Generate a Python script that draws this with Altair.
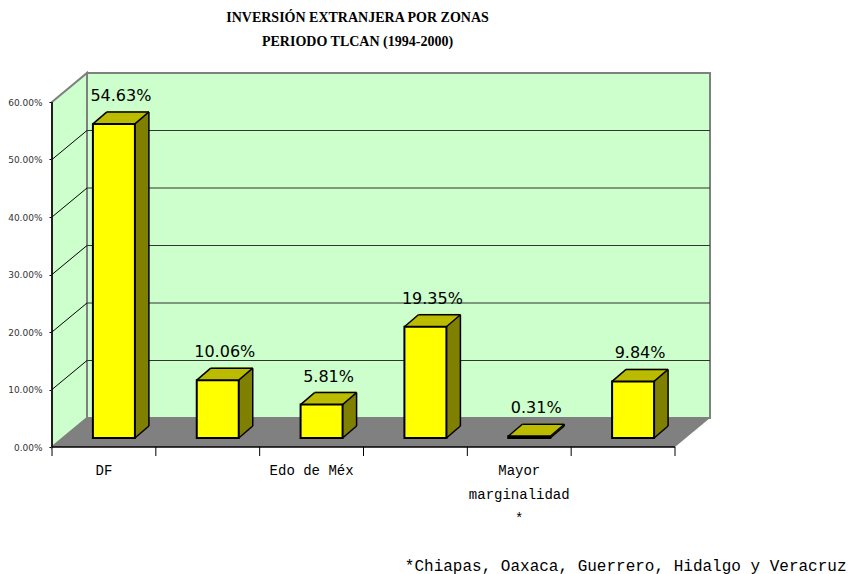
import json
import altair as alt
import pandas as pd

# ---------------- data ----------------
CATEGORY_IDX = [0, 1, 2, 3, 4, 5]
TICK_LABELS = ["DF", "", "Edo de Méx", "", "Mayor|marginalidad|*", ""]
VALUES = [54.63, 10.06, 5.81, 19.35, 0.31, 9.84]
Y_TICKS = [0, 10, 20, 30, 40, 50, 60]
TITLE_LINES = ["INVERSIÓN EXTRANJERA POR ZONAS", "PERIODO TLCAN (1994-2000)"]
FOOTNOTE = "*Chiapas, Oaxaca, Guerrero, Hidalgo y Veracruz"

# ---------------- styles ----------------
W, H = 623, 345
N = len(CATEGORY_IDX)
YMAX = Y_TICKS[-1]
WALL_DX, WALL_DY = 35, 29       # depth of the floor / side wall (px)
BAR_DX, BAR_DY = -25, 20        # front face shift of bars (px)
DEPTH_X, DEPTH_Y = 14, 12       # bar depth (px)
BAR_W = 42
TICK_LEN = 9
GREEN = "#CCFFCC"
FLOOR = "#808080"
YELLOW = "#FFFF00"
TOP = "#C0C000"
SIDE = "#808000"

ux = W / N
uy = H / YMAX
DXF = -WALL_DX / ux
DYF = -WALL_DY / uy

yscale = alt.Scale(domain=[0, YMAX], nice=False, zero=False)
xq = alt.Scale(domain=[0, N], nice=False, zero=False)
xb = alt.Scale(type="band", paddingInner=0, paddingOuter=0)

yaxis = alt.Axis(
    values=Y_TICKS, labelExpr="format(datum.value, '.2f') + '%'",
    offset=WALL_DX, tickOffset=WALL_DY, domain=False, grid=False,
    tickSize=3, tickColor="black", labelFont="DejaVu Sans", labelFontSize=9,
    labelColor="#333333", labelPadding=7, title=None,
)
label_expr = (
    "datum.value >= 0 && datum.value < " + str(N) + " ? split("
    + json.dumps(TICK_LABELS) + "[datum.value], '|') : ''"
)
xaxis = alt.Axis(
    offset=WALL_DY, labelOffset=-WALL_DX, domain=False, grid=False, ticks=False,
    labelExpr=label_expr,
    labelFont="Liberation Mono", labelFontSize=14, labelLineHeight=24,
    labelPadding=TICK_LEN + 7, labelColor="black", labelAngle=0, labelBaseline="top",
    title=FOOTNOTE, titleX=759, titleY=118, titleAlign="right",
    titleBaseline="middle", titleFont="Liberation Mono", titleFontSize=16,
    titleFontWeight="normal", titleColor="black",
)

# ---------------- tables ----------------
bars_df = pd.DataFrame({
    "idx": CATEGORY_IDX,
    "value": VALUES,
    "label": [f"{v:.2f}%" for v in VALUES],
    "center": [i + 0.5 for i in CATEGORY_IDX],
    "zero": [0] * N,
})
floor_df = pd.DataFrame({"y": [0, DYF], "x": [0, DXF], "x2": [N, N + DXF]})
wall_df = pd.DataFrame({"x": [DXF, 0], "y": [DYF, 0], "y2": [YMAX + DYF, YMAX]})
grid_df = pd.DataFrame({"v": Y_TICKS[1:-1]})
grid_df["vf"] = grid_df["v"] + DYF
grid_df["xa"] = DXF
grid_df["xb"] = 0
grid_df["xe"] = N
front_df = pd.DataFrame({
    "x": [DXF, DXF], "x2": [DXF, N + DXF],
    "y": [DYF, DYF], "y2": [YMAX + DYF, DYF],
})
xtick_df = pd.DataFrame({"b": [i + DXF for i in range(N + 1)], "y": [DYF] * (N + 1)})

# ---------------- back decoration ----------------
wall = alt.Chart(wall_df).mark_area(orient="vertical", fill=GREEN, stroke=FLOOR, strokeWidth=2).encode(
    x=alt.X("x:Q", scale=xq, axis=None),
    y=alt.Y("y:Q", scale=yscale, axis=yaxis),
    y2="y2:Q",
)
floor = alt.Chart(floor_df).mark_area(orient="horizontal", color=FLOOR).encode(
    y=alt.Y("y:Q", scale=yscale, axis=yaxis),
    x=alt.X("x:Q", scale=xq, axis=None),
    x2="x2:Q",
)
gridlines = alt.Chart(grid_df).mark_rule(color="#333333", strokeWidth=1).encode(
    x=alt.X("xb:Q", scale=xq, axis=None), x2="xe:Q",
    y=alt.Y("v:Q", scale=yscale, axis=yaxis),
)
diagonals = alt.Chart(grid_df).mark_rule(color="black", strokeWidth=1).encode(
    x=alt.X("xa:Q", scale=xq, axis=None), x2="xb:Q",
    y=alt.Y("vf:Q", scale=yscale, axis=yaxis), y2="v:Q",
)
front_lines = alt.Chart(front_df).mark_rule(color="black", strokeWidth=1.5).encode(
    x=alt.X("x:Q", scale=xq, axis=None), x2="x2:Q",
    y=alt.Y("y:Q", scale=yscale, axis=yaxis), y2="y2:Q",
)
xticks = alt.Chart(xtick_df).mark_rule(color="black", strokeWidth=1, y2Offset=TICK_LEN).encode(
    x=alt.X("b:Q", scale=xq, axis=None),
    y=alt.Y("y:Q", scale=yscale, axis=yaxis), y2="y:Q",
)
back_group = alt.layer(wall, floor, gridlines, diagonals, front_lines, xticks)

# ---------------- bars ----------------
X_ENC = alt.X("idx:O", scale=xb, axis=xaxis)
Y_ENC = alt.Y("value:Q", scale=yscale, axis=yaxis)
base = alt.Chart(bars_df)
bar_layers = []
for k in range(DEPTH_X, 0, -1):
    dy = BAR_DY - k * DEPTH_Y / DEPTH_X
    bar_layers.append(base.mark_bar(
        width=BAR_W, color=SIDE,
        xOffset=BAR_DX + k, yOffset=dy, y2Offset=dy,
    ).encode(x=X_ENC, y=Y_ENC, y2="zero:Q"))
for k in range(0, DEPTH_X + 1):
    bar_layers.append(base.mark_tick(
        size=BAR_W, thickness=2, color=TOP,
        xOffset=BAR_DX + k, yOffset=BAR_DY - k * DEPTH_Y / DEPTH_X,
    ).encode(x=X_ENC, y=Y_ENC))
bar_layers.append(base.mark_bar(
    width=BAR_W, color=YELLOW, stroke="black", strokeWidth=2,
    xOffset=BAR_DX, yOffset=BAR_DY, y2Offset=BAR_DY,
).encode(x=X_ENC, y=Y_ENC, y2="zero:Q"))
bar_layers.append(base.mark_text(
    xOffset=BAR_DX + 7, yOffset=BAR_DY - 28, baseline="middle", align="center",
    font="DejaVu Sans", fontSize=16, color="black",
).encode(x=X_ENC, y=Y_ENC, text="label:N"))
bars_group = alt.layer(*bar_layers)

# ---------------- bar edges ----------------
L = BAR_DX - BAR_W / 2
R = BAR_DX + BAR_W / 2
TB = BAR_DY - DEPTH_Y
edge_specs = [
    ("value", "value", L + DEPTH_X, R + DEPTH_X, TB, TB),
    ("value", "value", L, L + DEPTH_X, BAR_DY, TB),
    ("value", "value", R, R + DEPTH_X, BAR_DY, TB),
    ("value", "zero", R + DEPTH_X, R + DEPTH_X, TB, TB),
    ("zero", "zero", R, R + DEPTH_X, BAR_DY, TB),
]
edge_layers = []
for yf, y2f, xo, x2o, yo, y2o in edge_specs:
    edge_layers.append(base.mark_rule(
        color="black", strokeWidth=1.5,
        xOffset=xo, x2Offset=x2o, yOffset=yo, y2Offset=y2o,
    ).encode(
        x=alt.X("center:Q", scale=xq, axis=None), x2="center:Q",
        y=alt.Y(f"{yf}:Q", scale=yscale, axis=yaxis), y2=f"{y2f}:Q",
    ))
edges_group = alt.layer(*edge_layers)

chart = alt.layer(back_group, bars_group, edges_group).resolve_scale(
    x="independent"
).properties(
    width=W, height=H,
    autosize=alt.AutoSizeParams(type="none"),
    padding={"left": 87, "top": 73, "right": 139, "bottom": 156},
    title=alt.TitleParams(
        text=TITLE_LINES, font="Liberation Serif", fontSize=14, fontWeight="bold",
        anchor="middle", dx=-41, offset=20, lineHeight=24, color="black",
    ),
).configure_view(fill=GREEN, stroke=FLOOR, strokeWidth=2)

chart.save("out.html", embed_options={"renderer": "svg", "actions": False})
